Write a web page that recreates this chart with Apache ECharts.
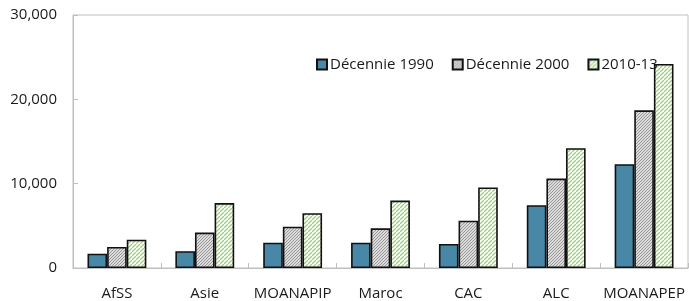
<!DOCTYPE html>
<html>
<head>
<meta charset="utf-8">
<script src="https://cdn.jsdelivr.net/npm/echarts@6/dist/echarts.min.js"></script>
<style>
  html, body { margin: 0; padding: 0; background: #fff; }
  #chart { width: 689px; height: 301px; }
</style>
</head>
<body>
<div id="chart"></div>
<script>
// régions
const categories = ["AfSS", "Asie", "MOANAPIP", "Maroc", "CAC", "ALC", "MOANAPEP"];
const seriesNames = ["Décennie 1990", "Décennie 2000", "2010-13"];
const dec1990 = [1700, 2000, 3000, 3000, 2850, 7450, 12300];
const dec2000 = [2500, 4200, 4900, 4700, 5600, 10600, 18700];
const y2010_13 = [3350, 7700, 6500, 8000, 9550, 14200, 24200];
const yTicks = [0, 10000, 20000, 30000];

// hachures
function hatch(bg, line, size, lw) {
  const c = document.createElement("canvas");
  c.width = size;
  c.height = size;
  const ctx = c.getContext("2d");
  ctx.fillStyle = bg;
  ctx.fillRect(0, 0, size, size);
  ctx.strokeStyle = line;
  ctx.lineWidth = lw;
  ctx.beginPath();
  ctx.moveTo(0, size);
  ctx.lineTo(size, 0);
  ctx.moveTo(-size, size);
  ctx.lineTo(0, 0);
  ctx.moveTo(size, 2 * size);
  ctx.lineTo(2 * size, size);
  ctx.stroke();
  return c;
}

const greyFill = { image: hatch("#dadada", "#9a9a9a", 3, 1), repeat: "repeat" };
const greenFill = { image: hatch("#ffffff", "#a3cc86", 4, 1.3), repeat: "repeat" };
const fills = ["#4887a6", greyFill, greenFill];
const datasets = [dec1990, dec2000, y2010_13];

const font = "'Open Sans', 'Noto Sans', sans-serif";

const chart = echarts.init(document.getElementById("chart"));
chart.setOption({
  animation: false,
  textStyle: { fontFamily: font },
  grid: {
    left: 73,
    right: 1,
    top: 15,
    bottom: 32,
    show: true,
    borderColor: "#bfbfbf",
    borderWidth: 1
  },
  legend: {
    left: 311,
    top: 52,
    itemWidth: 10,
    itemHeight: 10,
    itemGap: 18,
    icon: "rect",
    textStyle: { fontSize: 15, color: "#1a1a1a", fontFamily: font, padding: [0, 0, 0, -2] },
    data: seriesNames
  },
  xAxis: {
    type: "category",
    data: categories,
    axisLine: { lineStyle: { color: "#bfbfbf", width: 1 } },
    axisTick: { show: true, inside: true, length: 5, lineStyle: { color: "#bfbfbf" } },
    axisLabel: { fontSize: 15, color: "#1a1a1a", margin: 18, fontFamily: font, interval: 0 }
  },
  yAxis: {
    type: "value",
    min: yTicks[0],
    max: yTicks[yTicks.length - 1],
    interval: yTicks[1] - yTicks[0],
    splitLine: { show: false },
    axisLine: { show: true, lineStyle: { color: "#bfbfbf", width: 1 } },
    axisTick: { show: true, inside: true, length: 5, lineStyle: { color: "#bfbfbf" } },
    axisLabel: {
      fontSize: 15,
      color: "#1a1a1a",
      margin: 16,
      fontFamily: font,
      formatter: (v) => v.toLocaleString("en-US")
    }
  },
  series: seriesNames.map((name, i) => ({
    name: name,
    type: "bar",
    data: datasets[i],
    barGap: "0%",
    barCategoryGap: "33%",
    itemStyle: {
      color: fills[i],
      borderColor: "#111",
      borderWidth: 1.6
    }
  }))
});
</script>
</body>
</html>
